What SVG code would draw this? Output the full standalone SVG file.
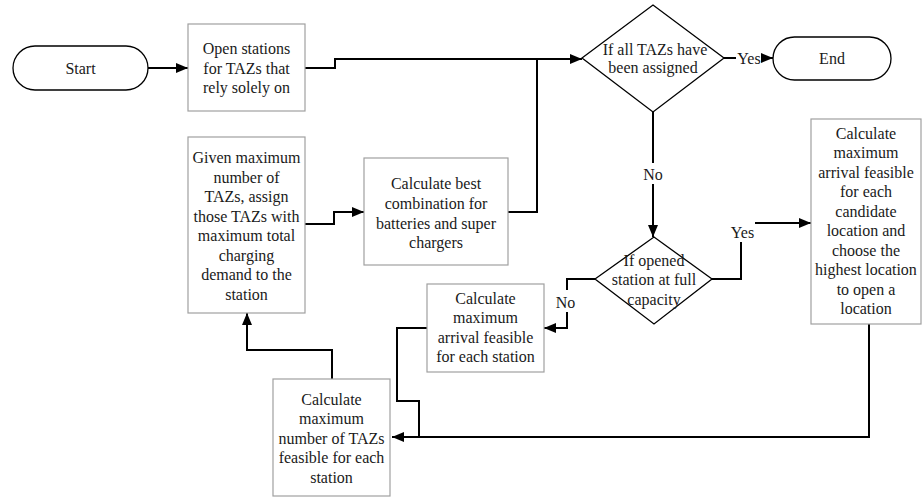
<svg xmlns="http://www.w3.org/2000/svg" width="922" height="497" viewBox="0 0 922 497">
<defs>
<marker id="arr" markerUnits="userSpaceOnUse" markerWidth="12" markerHeight="10" refX="12" refY="5" orient="auto">
<path d="M0,0 L12,5 L0,10 z" fill="#000"/>
</marker>
<style>
text{font-family:"Liberation Serif","Times New Roman",serif;font-size:16px;fill:#1a1a1a;text-anchor:middle}
.box{fill:#fff;stroke:#a0a0a0;stroke-width:1.2}
.term{fill:#fff;stroke:#000;stroke-width:1.3}
.dia{fill:#fff;stroke:#000;stroke-width:1.3}
.c{fill:none;stroke:#000;stroke-width:2}
.a{marker-end:url(#arr)}
.lbg{fill:#fff}
</style>
</defs>
<rect width="922" height="497" fill="#fff"/>
<g id="connectors">
<path class="c a" d="M148,68 H188"/>
<path class="c a" d="M305,68 H335 V59 H582"/>
<path class="c" d="M508,212 H537 V59"/>
<path class="c a" d="M724,58 H773"/>
<path class="c a" d="M653,112 V237"/>
<path class="c a" d="M712,279 H741 V223 H811"/>
<path class="c a" d="M595,279 H567 V328 H544"/>
<path class="c a" d="M869,324 V437 H392"/>
<path class="c" d="M427,328 H397 V401 H419 V437"/>
<path class="c a" d="M332,379 V350 H247 V313"/>
<path class="c a" d="M305,224 H334 V212 H364"/>
<rect class="lbg" x="736" y="48" width="25" height="20"/>
<text x="749" y="63.5">Yes</text>
<rect class="lbg" x="642" y="163" width="22" height="21"/>
<text x="653" y="179.5">No</text>
<rect class="lbg" x="730" y="222" width="25" height="20"/>
<text x="742.5" y="237.5">Yes</text>
<rect class="lbg" x="555" y="290" width="22" height="22"/>
<text x="565.5" y="307.5">No</text>
</g>
<g id="start">
<rect class="term" x="13" y="46" width="135" height="44" rx="22" ry="22"/>
<text x="80.5" y="73.5">Start</text>
</g>
<g id="open-stations">
<rect class="box" x="188" y="24" width="117" height="87"/>
<text x="246.5" y="54">Open stations</text>
<text x="246.5" y="73.5">for TAZs that</text>
<text x="246.5" y="93">rely solely on</text>
</g>
<g id="all-assigned">
<polygon class="dia" points="582,58 653,5 724,58 653,112"/>
<text x="655" y="54.5">If all TAZs have</text>
<text x="653" y="73">been assigned</text>
</g>
<g id="end">
<rect class="term" x="773" y="37" width="118" height="43" rx="21.5" ry="21.5"/>
<text x="832" y="64">End</text>
</g>
<g id="assign-tazs">
<rect class="box" x="188" y="137" width="117" height="176"/>
<text x="246.5" y="163">Given maximum</text>
<text x="246.5" y="182.5">number of</text>
<text x="246.5" y="202">TAZs, assign</text>
<text x="246.5" y="221.5">those TAZs with</text>
<text x="246.5" y="241">maximum total</text>
<text x="246.5" y="260.5">charging</text>
<text x="246.5" y="280">demand to the</text>
<text x="246.5" y="299.5">station</text>
</g>
<g id="best-combination">
<rect class="box" x="364" y="158" width="144" height="107"/>
<text x="436" y="188.5">Calculate best</text>
<text x="436" y="208.5">combination for</text>
<text x="436" y="228.5">batteries and super</text>
<text x="436" y="247.5">chargers</text>
</g>
<g id="full-capacity">
<polygon class="dia" points="595,279 654,237 712,279 654,324"/>
<text x="654" y="265.5">If opened</text>
<text x="654" y="285">station at full</text>
<text x="654" y="304.5">capacity</text>
</g>
<g id="max-arrival-candidate">
<rect class="box" x="811" y="119" width="110" height="205"/>
<text x="866" y="138.5">Calculate</text>
<text x="866" y="158">maximum</text>
<text x="866" y="177.5">arrival feasible</text>
<text x="866" y="197">for each</text>
<text x="866" y="216.5">candidate</text>
<text x="866" y="236">location and</text>
<text x="866" y="255.5">choose the</text>
<text x="866" y="275">highest location</text>
<text x="866" y="294.5">to open a</text>
<text x="866" y="314">location</text>
</g>
<g id="max-arrival-station">
<rect class="box" x="427" y="284" width="117" height="88"/>
<text x="485.5" y="303.5">Calculate</text>
<text x="485.5" y="323">maximum</text>
<text x="485.5" y="342.5">arrival feasible</text>
<text x="485.5" y="362">for each station</text>
</g>
<g id="max-tazs">
<rect class="box" x="273" y="379" width="117" height="117"/>
<text x="331.5" y="404.5">Calculate</text>
<text x="331.5" y="424">maximum</text>
<text x="331.5" y="443.5">number of TAZs</text>
<text x="331.5" y="463">feasible for each</text>
<text x="331.5" y="482.5">station</text>
</g>
</svg>
